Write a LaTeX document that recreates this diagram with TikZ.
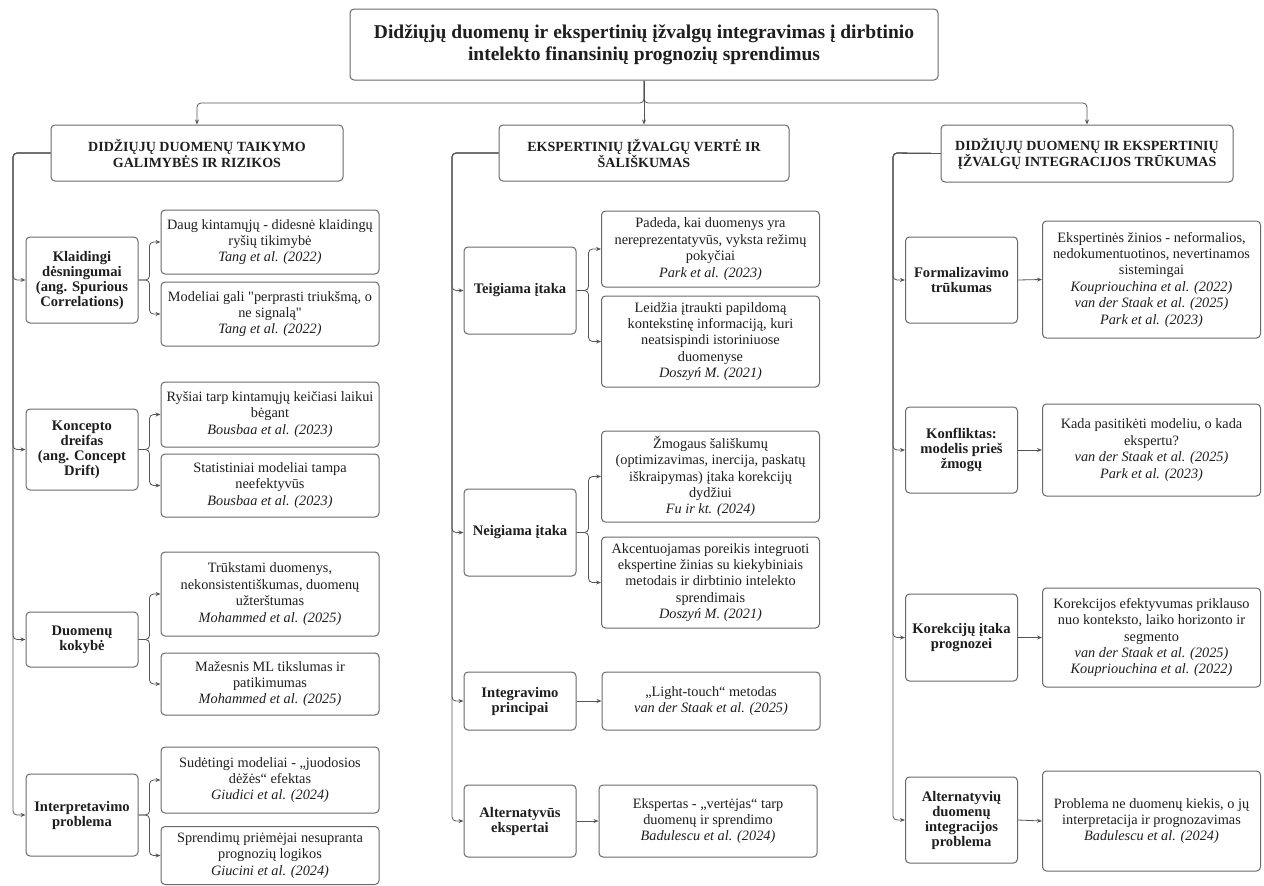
\documentclass[tikz,border=0pt]{standalone}
\usepackage{fontspec}
\setmainfont{Liberation Serif}
\usetikzlibrary{arrows.meta}

\definecolor{linegray}{RGB}{85,85,85}
\definecolor{boxgray}{RGB}{105,105,105}
\definecolor{textgray}{RGB}{30,30,30}

\begin{document}
\begin{tikzpicture}[x=1pt,y=-1pt]

\tikzstyle{box}=[draw=boxgray,line width=1pt,rounded corners=4pt,fill=white,align=center,inner sep=2pt,text=textgray];
\tikzstyle{title}=[box,font=\fontsize{19.5}{22}\selectfont\bfseries];
\tikzstyle{head}=[box,font=\fontsize{14}{16}\selectfont\bfseries];
\tikzstyle{topic}=[box,minimum width=112pt,font=\fontsize{14.6}{15}\selectfont\bfseries];
\tikzstyle{leaf}=[box,minimum width=218pt,font=\fontsize{14.3}{16.4}\selectfont];
\tikzstyle{conn}=[draw=linegray,line width=0.8pt,rounded corners=4pt,-{Stealth[length=5pt,width=4pt]}];

\useasboundingbox (0,0) rectangle (1264,886);

% Title and the three main branches
\node[title,minimum width=588pt,minimum height=71pt] (title) at (644,44.5) {Didžiųjų duomenų ir ekspertinių įžvalgų integravimas į dirbtinio\\intelekto finansinių prognozių sprendimus};
\node[head,minimum width=292pt,minimum height=56pt] (h1) at (197,153) {DIDŽIŲJŲ DUOMENŲ TAIKYMO\\GALIMYBĖS IR RIZIKOS};
\node[head,minimum width=290pt,minimum height=56pt] (h2) at (644,153) {EKSPERTINIŲ ĮŽVALGŲ VERTĖ IR\\ŠALIŠKUMAS};
\node[head,minimum width=292pt,minimum height=57pt] (h3) at (1087,153.5) {DIDŽIŲJŲ DUOMENŲ IR EKSPERTINIŲ\\ĮŽVALGŲ INTEGRACIJOS TRŪKUMAS};

% Left branch: big data
\node[topic,minimum height=86pt] (k1) at (82,280) {Klaidingi\\dėsningumai\\(ang. Spurious\\Correlations)};
\node[topic,minimum height=81pt] (k2) at (82,449.5) {Koncepto\\dreifas\\(ang. Concept\\Drift)};
\node[topic,minimum height=55pt] (k3) at (82,639.5) {Duomenų\\kokybė};
\node[topic,minimum height=82pt] (k4) at (82,815) {Interpretavimo\\problema};

\node[leaf,minimum height=64pt] (k1a) at (270,242) {Daug kintamųjų - didesnė klaidingų\\ryšių tikimybė\\\textit{Tang et al. (2022)}};
\node[leaf,minimum height=64pt] (k1b) at (270,314) {Modeliai gali \textquotedbl perprasti triukšmą, o\\ne signalą\textquotedbl\\\textit{Tang et al. (2022)}};
\node[leaf,minimum height=65pt] (k2a) at (270,414.5) {Ryšiai tarp kintamųjų keičiasi laikui\\bėgant\\\textit{Bousbaa et al. (2023)}};
\node[leaf,minimum height=63pt] (k2b) at (270,485.5) {Statistiniai modeliai tampa\\neefektyvūs\\\textit{Bousbaa et al. (2023)}};
\node[leaf,minimum height=84pt] (k3a) at (270,594) {Trūkstami duomenys,\\nekonsistentiškumas, duomenų\\užterštumas\\\textit{Mohammed et al. (2025)}};
\node[leaf,minimum height=62pt] (k3b) at (270,684) {Mažesnis ML tikslumas ir\\patikimumas\\\textit{Mohammed et al. (2025)}};
\node[leaf,minimum height=66pt] (k4a) at (270,780) {Sudėtingi modeliai - „juodosios\\dėžės“ efektas\\\textit{Giudici et al. (2024)}};
\node[leaf,minimum height=58pt] (k4b) at (270,855.5) {Sprendimų priėmėjai nesupranta\\prognozių logikos\\\textit{Giucini et al. (2024)}};

% Middle branch: expert insight
\node[topic,minimum height=87pt] (e1) at (520,290.5) {Teigiama įtaka};
\node[topic,minimum height=87pt] (e2) at (520,532.5) {Neigiama įtaka};
\node[topic,minimum height=58pt] (e3) at (520,701) {Integravimo\\principai};
\node[topic,minimum height=72pt] (e4) at (520,821) {Alternatyvūs\\ekspertai};

\node[leaf,minimum height=76pt] (e1a) at (710.5,249) {Padeda, kai duomenys yra\\nereprezentatyvūs, vyksta režimų\\pokyčiai\\\textit{Park et al. (2023)}};
\node[leaf,minimum height=91pt] (e1b) at (710.5,341.5) {Leidžia įtraukti papildomą\\kontekstinę informaciją, kuri\\neatsispindi istoriniuose\\duomenyse\\\textit{Doszyń M. (2021)}};
\node[leaf,minimum height=91pt] (e2a) at (710.5,476.5) {Žmogaus šališkumų\\(optimizavimas, inercija, paskatų\\iškraipymas) įtaka korekcijų\\dydžiui\\\textit{Fu ir kt. (2024)}};
\node[leaf,minimum height=91pt] (e2b) at (710.5,582.5) {Akcentuojamas poreikis integruoti\\ekspertine žinias su kiekybiniais\\metodais ir dirbtinio intelekto\\sprendimais\\\textit{Doszyń M. (2021)}};
\node[leaf,minimum height=58pt] (e3a) at (711,701) {„Light-touch“ metodas\\\textit{van der Staak et al. (2025)}};
\node[leaf,minimum height=72pt] (e4a) at (708,821) {Ekspertas - „vertėjas“ tarp\\duomenų ir sprendimo\\\textit{Badulescu et al. (2024)}};

% Right branch: integration gaps
\node[topic,minimum height=86pt] (r1) at (961.5,280) {Formalizavimo\\trūkumas};
\node[topic,minimum height=86pt] (r2) at (961.5,450) {Konfliktas:\\modelis prieš\\žmogų};
\node[topic,minimum height=87pt] (r3) at (961.5,637.5) {Korekcijų įtaka\\prognozei};
\node[topic,minimum height=86pt] (r4) at (961.5,820) {Alternatyvių\\duomenų\\integracijos\\problema};

\node[leaf,minimum height=117pt] (r1a) at (1151.5,279.5) {Ekspertinės žinios - neformalios,\\nedokumentuotinos, nevertinamos\\sistemingai\\\textit{Koupriouchina et al. (2022)}\\\textit{van der Staak et al. (2025)}\\\textit{Park et al. (2023)}};
\node[leaf,minimum height=92pt] (r2a) at (1151.5,450) {Kada pasitikėti modeliu, o kada\\ekspertu?\\\textit{van der Staak et al. (2025)}\\\textit{Park et al. (2023)}};
\node[leaf,minimum height=99pt] (r3a) at (1151.5,637.5) {Korekcijos efektyvumas priklauso\\nuo konteksto, laiko horizonto ir\\segmento\\\textit{van der Staak et al. (2025)}\\\textit{Koupriouchina et al. (2022)}};
\node[leaf,minimum height=100pt] (r4a) at (1151.5,821) {Problema ne duomenų kiekis, o jų\\interpretacija ir prognozavimas\\\textit{Badulescu et al. (2024)}};

% Connectors from the title
\coordinate (tj) at (644,103);
\draw[conn] (title.south) -- (tj) -| (h1.north);
\draw[conn] (title.south) -- (h2.north);
\draw[conn] (title.south) -- (tj) -| (h3.north);

% Spines
\coordinate (sl) at (13,153);
\coordinate (sm) at (452,153);
\coordinate (sr) at (893,153);
\foreach \t in {k1,k2,k3,k4} \draw[conn] (h1.west) -- (sl) |- (\t.west);
\foreach \t in {e1,e2,e3,e4} \draw[conn] (h2.west) -- (sm) |- (\t.west);
\foreach \t in {r1,r2,r3,r4} \draw[conn] (h3.west) -- (sr) |- (\t.west);

% Leaves
\foreach \t in {k1,k2,k3,k4} {
  \draw[conn] (\t.east) -- ++(11,0) |- (\t a.west);
  \draw[conn] (\t.east) -- ++(11,0) |- (\t b.west);
}
\foreach \t in {e1,e2} {
  \draw[conn] (\t.east) -- ++(12,0) |- (\t a.west);
  \draw[conn] (\t.east) -- ++(12,0) |- (\t b.west);
}
\foreach \t in {e3,e4,r1,r2,r3,r4} \draw[conn] (\t.east) -- (\t a.west);

\end{tikzpicture}
\end{document}
